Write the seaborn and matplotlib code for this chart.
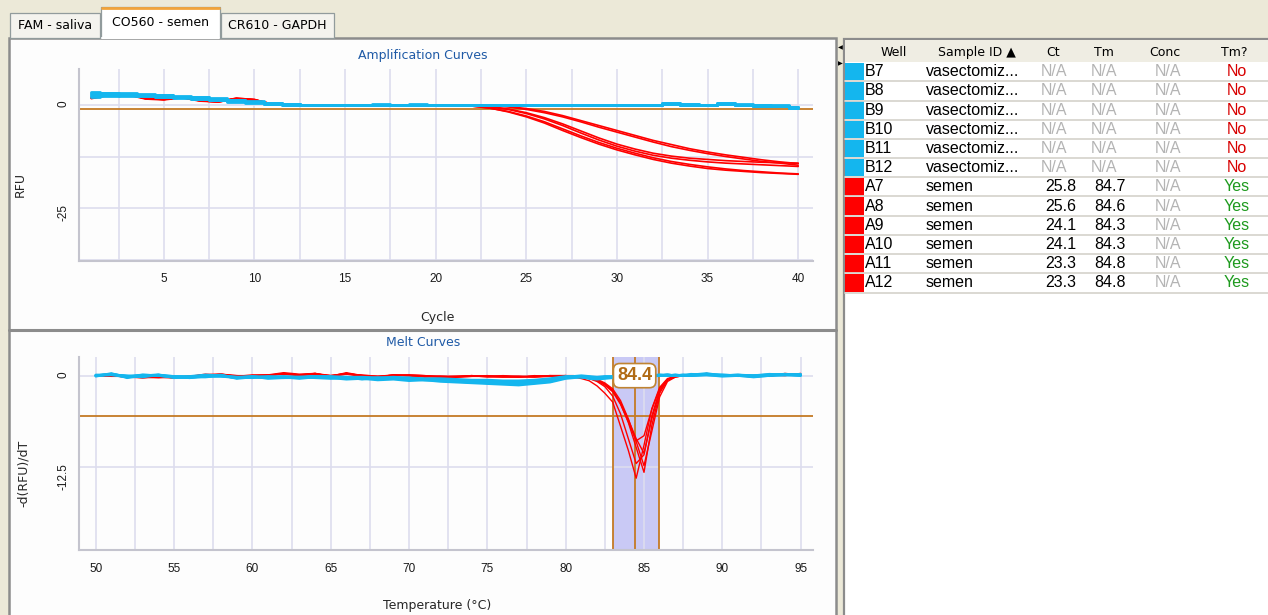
import numpy as np
import pandas as pd
import matplotlib
matplotlib.use("Agg")
import matplotlib.pyplot as plt
from matplotlib.patches import Rectangle
from matplotlib.ticker import MultipleLocator, FormatStrFormatter, NullLocator
import seaborn as sns

sns.set_style("white")
plt.rcParams['font.family'] = ['DejaVu Sans']
plt.rcParams['axes.unicode_minus'] = False

# ---------------- data ----------------
cycles = [1, 2, 3, 4, 5, 6, 7, 8, 9, 10, 11, 12, 13, 14, 15, 16, 17, 18, 19, 20,
          21, 22, 23, 24, 25, 26, 27, 28, 29, 30, 31, 32, 33, 34, 35, 36, 37, 38, 39, 40]

blue_wells = ["B7", "B8", "B9", "B10", "B11", "B12"]
red_wells = ["A7", "A8", "A9", "A10", "A11", "A12"]

amp_B7 = [2.9, 2.8, 2.6, 2.5, 2.3, 2.0, 1.8, 1.5, 1.1, 0.8, 0.4, 0.1, 0.0, 0.0, 0.0, 0.0, 0.0, 0.0, 0.0, 0.0,
          0.0, 0.0, 0.0, 0.0, 0.0, 0.0, 0.0, 0.0, 0.0, 0.0, 0.0, 0.0, 0.5, 0.0, 0.0, 0.5, 0.0, -0.2, -0.3, -0.7]
amp_B8 = [2.4, 2.5, 2.5, 2.3, 2.2, 1.9, 1.6, 1.3, 1.0, 0.6, 0.3, 0.1, 0.0, 0.0, 0.0, 0.0, 0.0, 0.0, 0.0, 0.0,
          0.0, 0.0, 0.0, 0.0, 0.0, 0.0, 0.0, 0.0, 0.0, 0.0, 0.0, 0.0, 0.1, 0.0, 0.0, 0.2, -0.1, -0.2, -0.2, -0.5]
amp_B9 = [3.1, 2.9, 2.8, 2.6, 2.4, 2.1, 1.9, 1.6, 1.2, 0.9, 0.5, 0.2, 0.0, 0.0, 0.0, 0.0, 0.2, 0.0, 0.0, 0.0,
          0.0, 0.0, 0.0, 0.0, 0.0, 0.0, 0.0, 0.0, 0.0, 0.0, 0.0, 0.0, 0.3, 0.1, 0.0, 0.4, 0.1, -0.1, -0.2, -0.6]
amp_B10 = [2.0, 2.2, 2.3, 2.2, 2.0, 1.8, 1.5, 1.2, 0.9, 0.6, 0.3, 0.0, 0.0, 0.0, 0.0, 0.0, 0.0, 0.0, 0.1, 0.0,
           0.0, 0.0, 0.0, 0.0, 0.0, 0.0, 0.0, 0.0, 0.0, 0.0, 0.0, 0.0, 0.2, 0.0, 0.0, 0.1, 0.0, -0.3, -0.3, -0.8]
amp_B11 = [2.7, 2.6, 2.7, 2.4, 2.1, 2.0, 1.7, 1.4, 1.1, 0.7, 0.4, 0.1, 0.0, 0.0, 0.0, 0.0, 0.0, 0.0, 0.0, 0.0,
           0.0, 0.0, 0.0, 0.0, 0.0, 0.0, 0.0, 0.0, 0.0, 0.0, 0.0, 0.0, 0.4, 0.1, 0.0, 0.3, 0.0, -0.1, -0.1, -0.4]
amp_B12 = [2.2, 2.3, 2.2, 2.1, 1.9, 1.7, 1.5, 1.2, 0.8, 0.5, 0.2, 0.0, 0.0, 0.0, 0.0, 0.0, 0.0, 0.0, 0.0, 0.0,
           0.0, 0.0, 0.0, 0.0, 0.0, 0.0, 0.0, 0.0, 0.0, 0.0, 0.0, 0.0, 0.2, 0.0, 0.0, 0.2, -0.1, -0.2, -0.3, -0.7]

amp_A7 = [1.6, 2.4, 2.5, 1.5, 1.3, 1.8, 1.0, 0.7, 1.5, 1.2, 0.2, 0.0, 0.0, 0.0, 0.0, 0.0, 0.0, 0.0, 0.0, 0.0,
          0.0, 0.0, -0.1, -0.4, -0.9, -1.6, -2.6, -3.8, -5.0, -6.2, -7.4, -8.6, -9.6, -10.6, -11.4, -12.1, -12.7, -13.3, -13.8, -14.2]
amp_A8 = [1.9, 2.6, 2.6, 1.7, 1.4, 1.9, 1.1, 0.8, 1.6, 1.3, 0.1, 0.0, 0.0, 0.0, 0.0, 0.0, 0.0, 0.0, 0.0, 0.0,
          0.0, 0.0, -0.1, -0.5, -1.1, -1.9, -2.9, -4.1, -5.4, -6.6, -7.8, -9.0, -10.1, -11.0, -11.8, -12.5, -13.1, -13.7, -14.1, -14.6]
amp_A9 = [1.5, 2.3, 2.4, 1.4, 1.2, 1.7, 0.9, 0.7, 1.4, 1.1, 0.1, 0.0, 0.0, 0.0, 0.0, 0.0, 0.0, 0.0, 0.0, 0.0,
          0.0, -0.1, -0.4, -1.0, -1.9, -3.1, -4.6, -6.3, -8.0, -9.5, -10.7, -11.7, -12.4, -12.9, -13.2, -13.5, -13.7, -13.9, -14.0, -14.1]
amp_A10 = [1.7, 2.5, 2.5, 1.6, 1.3, 1.8, 1.0, 0.8, 1.5, 1.2, 0.2, 0.0, 0.0, 0.0, 0.0, 0.0, 0.0, 0.0, 0.0, 0.0,
           0.0, -0.1, -0.5, -1.1, -2.1, -3.4, -5.0, -6.8, -8.5, -10.0, -11.2, -12.2, -12.9, -13.4, -13.8, -14.1, -14.3, -14.5, -14.7, -14.9]
amp_A11 = [1.6, 2.4, 2.6, 1.5, 1.4, 1.8, 1.0, 0.7, 1.5, 1.2, 0.0, 0.0, 0.0, 0.0, 0.0, 0.0, 0.0, 0.0, 0.0, 0.0,
           -0.1, -0.3, -0.8, -1.7, -2.9, -4.4, -6.2, -7.9, -9.5, -10.9, -12.1, -13.2, -14.1, -14.8, -15.4, -15.8, -16.1, -16.4, -16.6, -16.8]
amp_A12 = [1.8, 2.5, 2.5, 1.6, 1.3, 1.9, 1.1, 0.8, 1.6, 1.3, 0.1, 0.0, 0.0, 0.0, 0.0, 0.0, 0.0, 0.0, 0.0, 0.0,
           -0.1, -0.3, -0.8, -1.6, -2.7, -4.1, -5.8, -7.5, -9.1, -10.5, -11.7, -12.8, -13.7, -14.4, -15.0, -15.5, -15.9, -16.2, -16.5, -16.7]

melt_temp = [50, 51, 52, 53, 54, 55, 56, 57, 58, 59, 60, 61, 62, 63, 64, 65, 66, 67, 68, 69,
             70, 71, 72, 73, 74, 75, 76, 77, 78, 79, 80,
             80.5, 81, 81.5, 82, 82.5, 83, 83.5, 84, 84.5, 85, 85.5, 86, 86.5, 87, 87.5, 88,
             89, 90, 91, 92, 93, 94, 95]

melt_B7 = [0.0, 0.2, -0.1, 0.1, 0.0, -0.2, -0.3, -0.1, 0.1, -0.4, -0.2, -0.3, -0.2, -0.3, -0.1, -0.2, -0.4, -0.3, -0.4, -0.3,
           -0.5, -0.5, -0.6, -0.7, -0.8, -0.9, -1.0, -1.1, -1.0, -0.8, -0.3,
           -0.2, -0.1, -0.3, -0.4, -0.2, -0.3, -0.2, -0.1, -0.2, 0.0, 0.0, 0.1, 0.0, 0.1, 0.0, 0.1,
           0.2, 0.0, 0.1, -0.1, 0.1, 0.2, 0.0]
melt_B8 = [0.0, 0.1, 0.0, -0.2, 0.1, -0.1, -0.2, 0.0, -0.1, -0.2, -0.3, -0.1, -0.2, -0.4, -0.2, -0.3, -0.2, -0.5, -0.3, -0.4,
           -0.3, -0.6, -0.5, -0.6, -0.7, -0.8, -0.8, -0.9, -0.7, -0.5, -0.2,
           -0.1, -0.2, -0.2, -0.3, -0.3, -0.2, -0.1, 0.0, -0.1, 0.0, 0.1, 0.0, 0.1, 0.0, 0.0, 0.2,
           0.1, 0.1, 0.0, 0.0, 0.2, 0.1, 0.1]
melt_B9 = [-0.1, 0.3, -0.3, 0.0, 0.1, -0.3, -0.2, -0.2, 0.0, -0.3, -0.1, -0.4, -0.3, -0.2, -0.3, -0.4, -0.3, -0.4, -0.6, -0.5,
           -0.7, -0.6, -0.8, -0.9, -1.0, -1.1, -1.2, -1.3, -1.1, -0.9, -0.4,
           -0.3, -0.2, -0.4, -0.5, -0.4, -0.3, -0.2, -0.2, -0.1, 0.0, -0.1, 0.0, 0.1, 0.0, 0.0, 0.0,
           0.1, -0.1, 0.0, -0.2, 0.0, 0.1, 0.1]
melt_B10 = [0.0, 0.2, -0.2, 0.1, 0.0, -0.1, -0.1, 0.1, 0.0, -0.2, -0.1, -0.2, -0.1, -0.2, -0.1, -0.1, -0.2, -0.2, -0.3, -0.2,
            -0.3, -0.4, -0.4, -0.5, -0.6, -0.6, -0.7, -0.7, -0.6, -0.4, -0.1,
            -0.1, 0.0, -0.1, -0.2, -0.1, -0.1, 0.0, 0.0, 0.0, 0.1, 0.0, 0.1, 0.1, 0.0, 0.1, 0.1,
            0.3, 0.0, 0.1, 0.0, 0.1, 0.1, 0.2]
melt_B11 = [0.1, 0.1, -0.2, 0.0, 0.0, -0.2, -0.2, -0.1, -0.1, -0.3, -0.2, -0.2, -0.3, -0.3, -0.2, -0.3, -0.5, -0.4, -0.4, -0.4,
            -0.5, -0.6, -0.7, -0.8, -0.9, -1.0, -1.1, -1.0, -0.9, -0.7, -0.3,
            -0.2, -0.2, -0.3, -0.3, -0.2, -0.2, -0.1, -0.1, -0.1, 0.0, 0.0, 0.0, 0.0, 0.1, 0.0, 0.0,
            0.1, 0.0, 0.0, -0.1, 0.0, 0.1, 0.0]
melt_B12 = [0.0, 0.2, -0.1, 0.0, 0.1, -0.2, -0.3, 0.0, 0.0, -0.3, -0.2, -0.2, -0.2, -0.2, -0.1, -0.2, -0.3, -0.3, -0.3, -0.3,
            -0.4, -0.5, -0.6, -0.6, -0.7, -0.8, -0.9, -0.9, -0.8, -0.6, -0.2,
            -0.2, -0.1, -0.2, -0.3, -0.2, -0.2, -0.1, -0.1, -0.1, 0.0, 0.0, 0.0, 0.1, 0.0, 0.1, 0.0,
            0.2, 0.1, 0.0, 0.0, 0.1, 0.2, 0.1]

melt_A7 = [0.0, 0.1, -0.1, -0.2, -0.2, -0.2, -0.1, 0.1, 0.2, -0.1, 0.0, 0.0, 0.3, 0.1, 0.3, 0.0, 0.3, 0.0, -0.1, 0.1,
           0.0, -0.1, -0.1, -0.1, 0.0, -0.1, -0.1, -0.2, -0.1, 0.0, 0.0,
           -0.1, -0.2, -0.4, -0.7, -1.3, -2.2, -3.9, -6.3, -8.9, -8.2, -4.6, -1.8, -0.5, -0.1, 0.0, 0.0,
           0.2, 0.0, 0.0, -0.1, 0.0, 0.1, 0.2]
melt_A8 = [0.0, 0.0, -0.2, -0.3, -0.1, -0.3, -0.2, 0.0, 0.1, -0.2, 0.0, 0.1, 0.2, 0.0, 0.2, -0.1, 0.2, -0.1, -0.2, 0.0,
           0.1, 0.0, -0.1, -0.2, -0.1, -0.1, 0.0, -0.1, -0.2, -0.1, 0.0,
           -0.1, -0.2, -0.3, -0.6, -1.2, -2.1, -3.7, -6.0, -8.6, -10.6, -5.9, -2.2, -0.6, -0.2, 0.0, 0.1,
           0.1, 0.1, -0.1, 0.0, 0.1, 0.0, 0.3]
melt_A9 = [0.0, 0.0, -0.1, -0.3, -0.2, -0.3, -0.1, 0.1, 0.2, -0.1, 0.0, 0.1, 0.4, 0.2, 0.3, -0.1, 0.3, 0.0, -0.2, 0.1,
           0.0, -0.1, -0.2, -0.1, 0.0, -0.2, -0.1, -0.2, -0.1, 0.0, -0.1,
           -0.2, -0.4, -0.7, -1.4, -2.4, -3.6, -6.9, -10.2, -14.0, -9.5, -4.5, -1.6, -0.4, -0.1, 0.1, 0.0,
           0.2, -0.1, 0.1, 0.0, -0.1, 0.3, 0.1]
melt_A10 = [0.1, 0.0, -0.2, -0.2, -0.1, -0.2, -0.2, 0.0, 0.1, 0.0, -0.1, 0.0, 0.3, 0.1, 0.2, 0.0, 0.2, 0.1, -0.1, 0.0,
            0.1, 0.0, -0.2, -0.2, -0.1, -0.1, -0.2, -0.1, -0.1, -0.1, 0.0,
            -0.1, -0.2, -0.4, -0.8, -1.5, -2.8, -5.2, -8.6, -12.0, -10.8, -5.5, -2.0, -0.5, -0.1, 0.0, 0.1,
            0.1, 0.0, 0.0, -0.2, 0.0, 0.2, 0.1]
melt_A11 = [0.0, -0.1, -0.1, -0.2, -0.3, -0.2, -0.1, 0.2, 0.1, -0.1, 0.1, 0.0, 0.3, 0.0, 0.3, -0.1, 0.4, 0.0, -0.1, 0.0,
            0.0, -0.2, -0.1, -0.2, 0.0, -0.1, -0.2, -0.2, 0.0, -0.1, -0.1,
            -0.1, -0.2, -0.3, -0.6, -1.1, -2.0, -3.8, -6.4, -9.8, -13.2, -6.8, -2.4, -0.6, -0.1, 0.0, 0.0,
            0.3, 0.0, 0.1, -0.1, 0.0, 0.1, 0.2]
melt_A12 = [0.0, 0.1, -0.2, -0.2, -0.2, -0.3, -0.1, 0.0, 0.2, 0.0, 0.0, 0.1, 0.2, 0.1, 0.2, 0.0, 0.3, -0.1, -0.2, 0.1,
            0.0, -0.1, -0.1, -0.1, -0.1, 0.0, -0.1, -0.1, -0.2, 0.0, 0.0,
            0.0, -0.1, -0.3, -0.5, -1.0, -1.8, -3.4, -5.9, -9.0, -12.3, -7.6, -2.9, -0.8, -0.2, 0.0, 0.1,
            0.1, 0.1, 0.0, -0.1, 0.1, 0.2, 0.1]

amp_threshold = -1.05
melt_threshold = -5.46
peak_temp = 84.4
peak_lo = 83.0
peak_hi = 85.95

tab_labels = ["FAM - saliva", "CO560 - semen", "CR610 - GAPDH"]
table_header = ["Well", "Sample ID \u25b2", "Ct", "Tm", "Conc", "Tm?"]
table_wells = ["B7", "B8", "B9", "B10", "B11", "B12", "A7", "A8", "A9", "A10", "A11", "A12"]
table_sample = ["vasectomiz...", "vasectomiz...", "vasectomiz...", "vasectomiz...", "vasectomiz...", "vasectomiz...",
                "semen", "semen", "semen", "semen", "semen", "semen"]
table_ct = ["N/A", "N/A", "N/A", "N/A", "N/A", "N/A", "25.8", "25.6", "24.1", "24.1", "23.3", "23.3"]
table_tm = ["N/A", "N/A", "N/A", "N/A", "N/A", "N/A", "84.7", "84.6", "84.3", "84.3", "84.8", "84.8"]
table_conc = ["N/A"] * 12
table_call = ["No", "No", "No", "No", "No", "No", "Yes", "Yes", "Yes", "Yes", "Yes", "Yes"]

BLUE = "#14B6EE"
RED = "#FF0000"
ORANGE = "#C47A24"

amp_curves = {"B7": amp_B7, "B8": amp_B8, "B9": amp_B9, "B10": amp_B10, "B11": amp_B11, "B12": amp_B12,
              "A7": amp_A7, "A8": amp_A8, "A9": amp_A9, "A10": amp_A10, "A11": amp_A11, "A12": amp_A12}
melt_curves = {"B7": melt_B7, "B8": melt_B8, "B9": melt_B9, "B10": melt_B10, "B11": melt_B11, "B12": melt_B12,
               "A7": melt_A7, "A8": melt_A8, "A9": melt_A9, "A10": melt_A10, "A11": melt_A11, "A12": melt_A12}

amp_rows = []
for w, vals in amp_curves.items():
    assert len(vals) == len(cycles), w
    for c, v in zip(cycles, vals):
        amp_rows.append({"Well": w, "Cycle": c, "RFU": v})
amp_df = pd.DataFrame(amp_rows)

melt_rows = []
for w, vals in melt_curves.items():
    assert len(vals) == len(melt_temp), w
    for t, v in zip(melt_temp, vals):
        melt_rows.append({"Well": w, "Temp": t, "dRFU": v})
melt_df = pd.DataFrame(melt_rows)

# ---------------- figure & chrome ----------------
fig = plt.figure(figsize=(12.68, 6.15), dpi=100, facecolor="#ECE9D8")
bg = fig.add_axes([0, 0, 1, 1], zorder=-10)
bg.set_xlim(0, 1268)
bg.set_ylim(615, 0)
bg.axis("off")

# left chart panel
bg.add_patch(Rectangle((9, 38), 827, 590, facecolor="#FDFDFD", edgecolor="#8C8C8C", lw=1.8))
bg.plot([9, 836], [330, 330], color="#8C8C8C", lw=2.2)
# right table panel
bg.add_patch(Rectangle((844, 39), 430, 590, facecolor="#FFFFFF", edgecolor="#8C8C8C", lw=1.6))
bg.add_patch(Rectangle((845, 40), 425, 22, facecolor="#EFEDE3", edgecolor="none"))
bg.text(840, 48, "\u25c0", fontsize=4.5, ha="center", va="center", color="black")
bg.text(840, 64, "\u25b6", fontsize=4.5, ha="center", va="center", color="black")

# tabs
tab_boxes = [(10, 13, 90, 25), (221, 13, 113, 25), (101, 7, 119, 31)]
tab_text_pos = [(55, 25.5), (277, 25.5), (160, 22)]
tab_order = [0, 2, 1]
for box, pos, idx in zip(tab_boxes, tab_text_pos, tab_order):
    x0, y0, wdt, hgt = box
    selected = idx == 1
    bg.add_patch(Rectangle((x0, y0), wdt, hgt, facecolor="#FFFFFF" if selected else "#F4F3EE",
                           edgecolor="#919B9C", lw=0.9, zorder=3 if selected else 2))
    if selected:
        bg.plot([x0 + 1, x0 + wdt - 1], [y0 + 0.5, y0 + 0.5], color="#F2A33A", lw=2.0, zorder=4)
        bg.plot([x0 + 1, x0 + wdt - 1], [y0 + hgt, y0 + hgt], color="#FFFFFF", lw=1.5, zorder=4)
    bg.text(pos[0], pos[1], tab_labels[idx], fontsize=9, ha="center", va="center", color="black", zorder=5)

# table
hdr_x = [894, 977, 1053, 1104, 1165, 1234]
for hx, h in zip(hdr_x, table_header):
    bg.text(hx, 52.5, h, fontsize=9, ha="center", va="center", color="black")
row_font = dict(family=["Liberation Sans", "DejaVu Sans"], fontsize=11.5, va="center")
for i, well in enumerate(table_wells):
    yc = 71.7 + 19.2 * i
    col = BLUE if well.startswith("B") else RED
    bg.add_patch(Rectangle((845, yc - 8.8), 18.5, 17.6, facecolor=col, edgecolor="none"))
    bg.plot([845, 1268], [yc + 9.6, yc + 9.6], color="#D8D5CF", lw=1.3)
    bg.text(865, yc, well, ha="left", color="black", **row_font)
    bg.text(926, yc, table_sample[i], ha="left", color="black", **row_font)
    na = "#B4B4B4"
    ct = table_ct[i]
    bg.text(1054 if ct == "N/A" else 1061, yc, ct, ha="center", color=na if ct == "N/A" else "black", **row_font)
    tm = table_tm[i]
    bg.text(1103.5 if tm == "N/A" else 1110, yc, tm, ha="center", color=na if tm == "N/A" else "black", **row_font)
    bg.text(1167.5, yc, table_conc[i], ha="center", color=na, **row_font)
    bg.text(1236.5, yc, table_call[i], ha="center", color="#D80000" if table_call[i] == "No" else "#1E9A1E", **row_font)

# ---------------- chart axes ----------------
ax_amp = fig.add_axes([0.06230, 0.57610, 0.57863, 0.31122])
ax_melt = fig.add_axes([0.06230, 0.10569, 0.57863, 0.31333])

red_pal = {w: RED for w in red_wells}
blue_pal = {w: BLUE for w in blue_wells}

sns.lineplot(data=amp_df[amp_df.Well.isin(red_wells)], x="Cycle", y="RFU", hue="Well", hue_order=red_wells,
             palette=red_pal, estimator=None, legend=False, lw=1.2, ax=ax_amp, zorder=2)
sns.lineplot(data=amp_df[amp_df.Well.isin(blue_wells)], x="Cycle", y="RFU", hue="Well", hue_order=blue_wells,
             palette=blue_pal, estimator=None, legend=False, lw=2.0, ax=ax_amp, zorder=3,
             drawstyle="steps-mid")
ax_amp.axhline(amp_threshold, color=ORANGE, lw=1.3, zorder=1.5)

sns.lineplot(data=melt_df[melt_df.Well.isin(red_wells)], x="Temp", y="dRFU", hue="Well", hue_order=red_wells,
             palette=red_pal, estimator=None, legend=False, lw=1.0, ax=ax_melt, zorder=2)
sns.lineplot(data=melt_df[melt_df.Well.isin(blue_wells)], x="Temp", y="dRFU", hue="Well", hue_order=blue_wells,
             palette=blue_pal, estimator=None, legend=False, lw=1.8, ax=ax_melt, zorder=2.2)
ax_melt.axvspan(peak_lo, peak_hi, color="#C9C9F5", zorder=0.2, lw=0)
for xv in (peak_lo, peak_temp, peak_hi):
    ax_melt.axvline(xv, color=ORANGE, lw=1.3, zorder=1.5)
ax_melt.axhline(melt_threshold, color=ORANGE, lw=1.3, zorder=1.5)
ax_melt.text(peak_temp, 0.0, f"{peak_temp:.1f}", ha="center", va="center", fontsize=13, fontweight="bold",
             color="#B06A14", family=["Liberation Sans", "DejaVu Sans"], zorder=6,
             bbox=dict(boxstyle="round,pad=0.2,rounding_size=0.35", fc="white", ec="#C08432", lw=1.2))

ax_amp.set_xlim(0.32, 40.8)
ax_amp.set_ylim(-37.7, 8.6)
ax_amp.xaxis.set_major_locator(MultipleLocator(5))
ax_amp.xaxis.set_minor_locator(MultipleLocator(2.5))
ax_amp.yaxis.set_major_locator(MultipleLocator(25))
ax_amp.yaxis.set_minor_locator(MultipleLocator(12.5))

ax_melt.set_xlim(48.93, 95.77)
ax_melt.set_ylim(-23.8, 2.5)
ax_melt.xaxis.set_major_locator(MultipleLocator(5))
ax_melt.xaxis.set_minor_locator(MultipleLocator(2.5))
ax_melt.yaxis.set_major_locator(MultipleLocator(12.5))
ax_melt.yaxis.set_minor_locator(NullLocator())

for ax in (ax_amp, ax_melt):
    ax.set_facecolor("none")
    for s in ("top", "right"):
        ax.spines[s].set_visible(False)
    for s in ("left", "bottom"):
        ax.spines[s].set_color("#C4C4CE")
        ax.spines[s].set_linewidth(1.5)
    ax.tick_params(which="both", direction="out", length=4, width=1.0, color="#303030",
                   labelsize=8.5, labelcolor="#1A1A1A", pad=5)
    ax.tick_params(axis="y", labelrotation=90, pad=3)
    ax.xaxis.set_major_formatter(FormatStrFormatter("%g"))
    ax.yaxis.set_major_formatter(FormatStrFormatter("%g"))
    ax.grid(True, which="both", color="#DDDDEE", lw=1.2)
    ax.set_axisbelow(True)

ax_amp.set_xlabel("Cycle", fontsize=9)
ax_amp.set_ylabel("RFU", fontsize=9)
ax_amp.xaxis.set_label_coords(0.488, -0.263)
ax_amp.yaxis.set_label_coords(-0.0709, 0.3955)
ax_amp.text(0.469, 1.0747, "Amplification Curves", transform=ax_amp.transAxes, ha="center", va="center",
            fontsize=9, color="#1F5AA6")

ax_melt.set_xlabel("Temperature (\u00b0C)", fontsize=9)
ax_melt.set_ylabel("-d(RFU)/dT", fontsize=9)
ax_melt.xaxis.set_label_coords(0.488, -0.254)
ax_melt.yaxis.set_label_coords(-0.0668, 0.3996)
ax_melt.text(0.469, 1.079, "Melt Curves", transform=ax_melt.transAxes, ha="center", va="center",
             fontsize=9, color="#1F5AA6")

for ax in (ax_amp, ax_melt):
    for lab in ax.get_xticklabels() + ax.get_yticklabels():
        lab.set_family(["Liberation Sans", "DejaVu Sans"])

fig.savefig("out.png", dpi=100, facecolor=fig.get_facecolor())
